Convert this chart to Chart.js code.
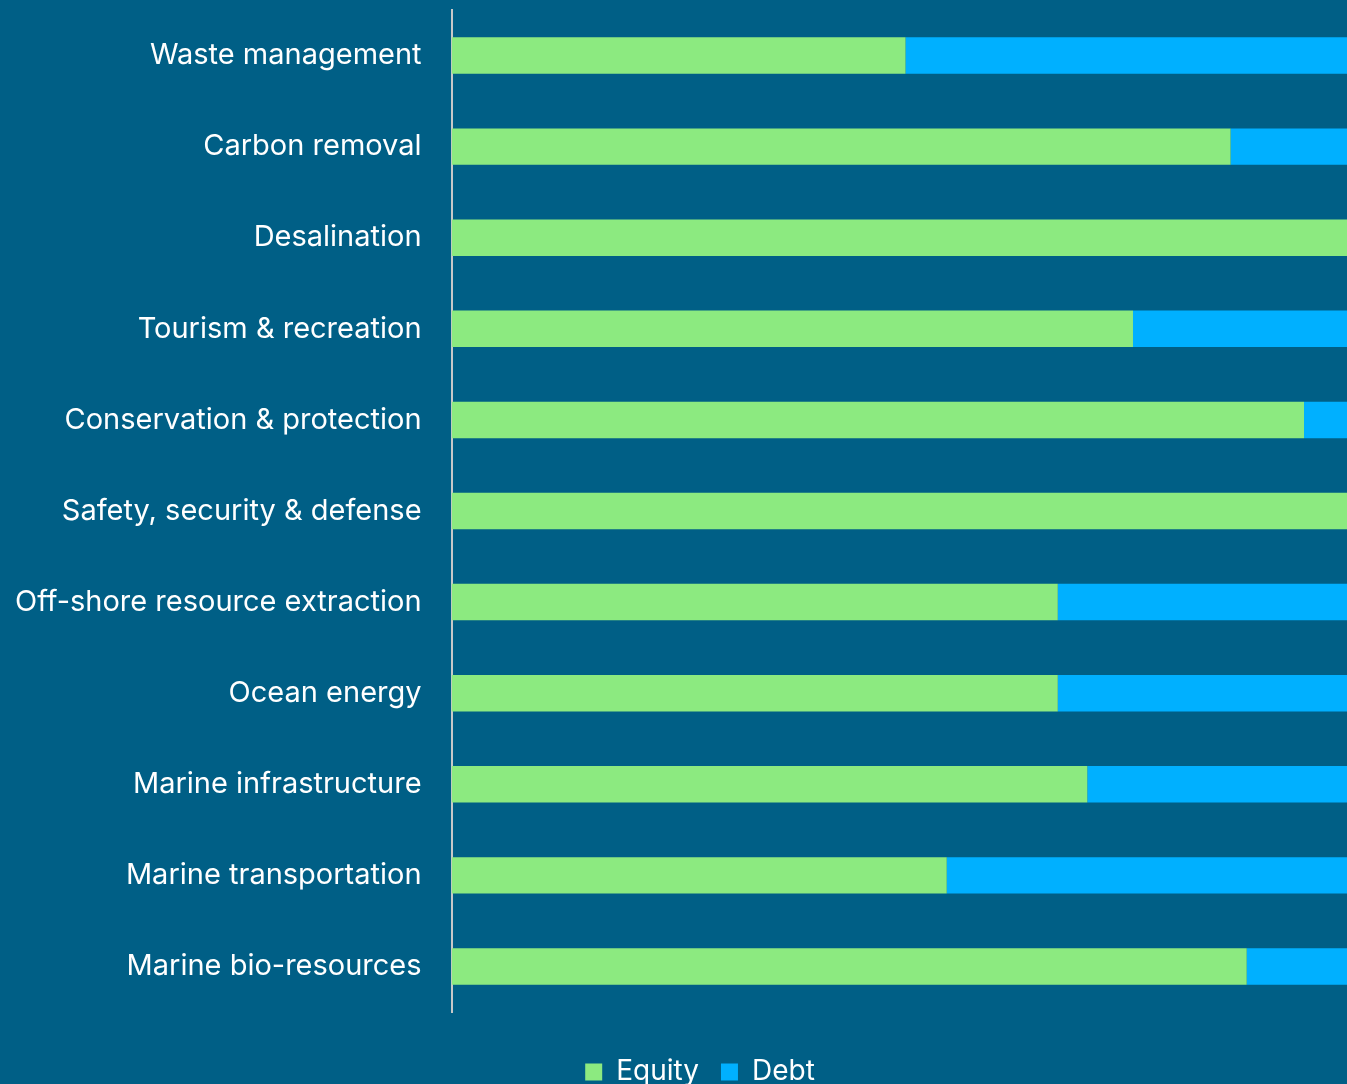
<!DOCTYPE html>
<html>
<head>
<meta charset="utf-8">
<script src="https://cdn.jsdelivr.net/npm/chart.js@4"></script>
<style>
  html, body { margin: 0; padding: 0; background: #005F86; }
  #wrap { width: 1347px; height: 1084px; position: relative; }
</style>
</head>
<body>
<div id="wrap"><canvas id="myChart"></canvas></div>
<script>
'use strict';
let sectors = ['Waste management', 'Carbon removal', 'Desalination', 'Tourism & recreation',
  'Conservation & protection', 'Safety, security & defense', 'Off-shore resource extraction',
  'Ocean energy', 'Marine infrastructure', 'Marine transportation', 'Marine bio-resources'];
// share of deals (%) per sector
let equity = [50.7, 87.0, 100, 76.1, 95.2, 100, 67.7, 67.7, 71.0, 55.3, 88.8];
let debt = [49.3, 13.0, 0, 23.9, 4.8, 0, 32.3, 32.3, 29.0, 44.7, 11.2];

// move the legend right and down a little, below the plot
let legendShift = {
  id: 'legendShift',
  afterLayout(chart) {
    chart.legend.left += 34;
    chart.legend.right += 34;
    chart.legend.top += 24;
    chart.legend.bottom += 24;
  }
};

let ctx = document.getElementById('myChart').getContext('2d');
let myChart = new Chart(ctx, {
  type: 'bar',
  data: {
    labels: sectors,
    datasets: [{
      label: 'Equity',
      data: equity,
      backgroundColor: '#8CEA80',
      borderWidth: 0,
      barPercentage: 0.4,
      categoryPercentage: 1
    }, {
      label: 'Debt',
      data: debt,
      backgroundColor: '#00B0FF',
      borderWidth: 0,
      barPercentage: 0.4,
      categoryPercentage: 1
    }]
  },
  plugins: [legendShift],
  options: {
    indexAxis: 'y',
    responsive: true,
    maintainAspectRatio: false,
    animation: false,
    layout: { padding: { top: 10, right: 0, left: -15, bottom: 12 } },
    scales: {
      x: {
        stacked: true,
        min: 0,
        max: 100,
        display: false
      },
      y: {
        stacked: true,
        grid: { display: false, drawTicks: false },
        border: { color: '#C8C8C8', width: 2 },
        ticks: {
          color: '#FFFFFF',
          padding: 30,
          font: { family: 'Inter', size: 29 }
        },
        afterFit(scale) {
          scale.paddingTop = 0;
          scale.paddingBottom = 0;
        }
      }
    },
    plugins: {
      tooltip: { enabled: false },
      legend: {
        position: 'bottom',
        labels: {
          color: '#FFFFFF',
          boxWidth: 17,
          boxHeight: 17,
          padding: 22,
          font: { family: 'Inter', size: 28 }
        }
      }
    }
  }
});
</script>
</body>
</html>
